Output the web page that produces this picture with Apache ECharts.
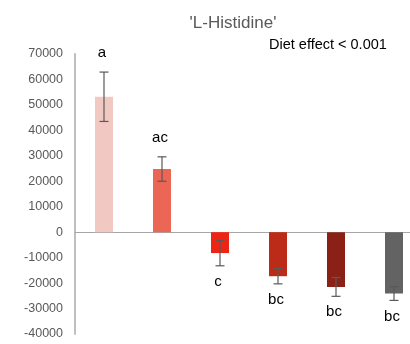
<!DOCTYPE html>
<html><head><meta charset="utf-8">
<script src="https://cdn.jsdelivr.net/npm/echarts@6/dist/echarts.min.js"></script>
<style>html,body{margin:0;padding:0;background:#fff}#c{width:410px;height:344px}</style>
</head><body><div id="c"></div>
<script>
var categories = ['G1','G2','G3','G4','G5','G6'];
var values = [53200, 24800, -8200, -17300, -21500, -24100];
var errors = [9700, 4800, 5000, 3000, 3700, 2700];
var letters = ['a','ac','c','bc','bc','bc'];
var colors = ['#F2C9C2','#EB6654','#EE2514','#BC2A18','#8B2116','#636363'];
var yTicks = {min:-40000, max:70000, interval:10000};

var chart = echarts.init(document.getElementById('c'));
var font = 'Liberation Sans, Arial, sans-serif';
chart.setOption({
  animation:false,
  title:{text:"'L-Histidine'", left:228, top:10, textAlign:'center',
    textStyle:{color:'#595959', fontSize:17, fontWeight:'normal', fontFamily:font}},
  graphic:[{type:'text', left:269, top:37, style:{text:'Diet effect < 0.001', fill:'#000', fontSize:14.5, fontFamily:font}}],
  grid:{left:75, width:348, top:54, bottom:10, containLabel:false, outerBoundsMode:'none'},
  xAxis:{type:'category', data:categories,
    axisLine:{lineStyle:{color:'#a6a6a6', width:1}},
    axisTick:{show:false}, axisLabel:{show:false}},
  yAxis:{type:'value', min:yTicks.min, max:yTicks.max, interval:yTicks.interval,
    axisLine:{show:true, lineStyle:{color:'#bfbfbf', width:2}},
    axisTick:{show:false}, splitLine:{show:false},
    axisLabel:{color:'#595959', fontSize:12.5, fontFamily:font, margin:12,
      formatter:function(v){return String(v);}}},
  series:[
    {type:'bar', barWidth:18, data:values.map(function(v,i){return {value:v, itemStyle:{color:colors[i]}};}), z:2},
    {type:'custom', z:5,
      data:values.map(function(v,i){return [i, v, errors[i]];}),
      renderItem:function(params, api){
        var i = api.value(0), v = api.value(1), e = api.value(2);
        var top = api.coord([i, v+e]);
        var bot = api.coord([i, v-e]);
        var x = top[0], cap = 4.5;
        var st = {stroke:'#595959', lineWidth:1.2};
        var ly = v >= 0 ? top[1]-19 : bot[1]+16;
        return {type:'group', children:[
          {type:'line', shape:{x1:x, y1:top[1], x2:x, y2:bot[1]}, style:st},
          {type:'line', shape:{x1:x-cap, y1:top[1], x2:x+cap, y2:top[1]}, style:st},
          {type:'line', shape:{x1:x-cap, y1:bot[1], x2:x+cap, y2:bot[1]}, style:st},
          {type:'text', style:{text:letters[params.dataIndex], x:x-2, y:ly, align:'center', verticalAlign:'middle',
            fill:'#000', fontSize:15, fontFamily:font}}
        ]};
      }}
  ]
});
</script></body></html>
